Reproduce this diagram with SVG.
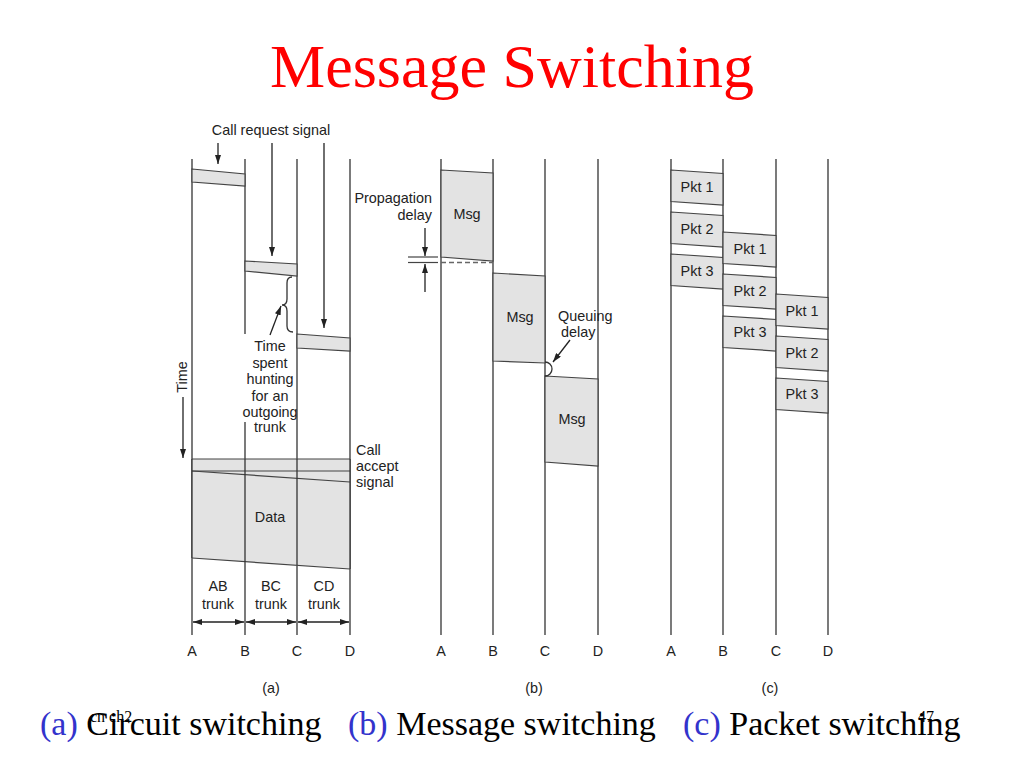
<svg xmlns="http://www.w3.org/2000/svg" width="1024" height="768" viewBox="0 0 1024 768">
<style>
.ln{stroke:#333;stroke-width:1.3;fill:none}
.pk{fill:#e3e3e3;stroke:#444;stroke-width:1.2}
.ed{stroke:#444;stroke-width:1.2;fill:none}
.t{font-family:"Liberation Sans",Arial,sans-serif;font-size:14.4px;fill:#222}
.m{text-anchor:middle}
.ar{stroke:#222;stroke-width:1.3;fill:none;marker-end:url(#ah)}
.cap{font-family:"Liberation Serif","Times New Roman",serif;font-size:34px;fill:#000}
.blue{fill:#3333cc}
</style>
<defs>
<marker id="ah" viewBox="0 0 9 6" refX="9" refY="3" markerWidth="9" markerHeight="6" markerUnits="userSpaceOnUse" orient="auto-start-reverse">
<path d="M0,0 L9,3 L0,6 z" fill="#222"/>
</marker>
</defs>
<rect width="1024" height="768" fill="#fff"/>
<text id="title" x="512" y="87" text-anchor="middle" font-family="Liberation Serif,'Times New Roman',serif" font-size="62" fill="#ff0000">Message Switching</text>

<!-- (a) circuit switching -->
<g id="a-lines" class="ln">
<line x1="192" y1="159" x2="192" y2="635"/>
<line x1="245" y1="159" x2="245" y2="635"/>
<line x1="297" y1="159" x2="297" y2="635"/>
<line x1="350" y1="159" x2="350" y2="635"/>
</g>
<g id="a-req-ab"><polygon class="pk" points="192,169 245,174 245,186 192,182"/></g>
<g id="a-req-bc"><polygon class="pk" points="245,261 297,264 297,276 245,271"/></g>
<g id="a-req-cd"><polygon class="pk" points="297,334 350,338 350,351 297,348"/></g>
<g id="a-data">
<polygon points="192,459 350,459 350,569 192,558" fill="#e3e3e3"/>
<line class="ed" x1="192" y1="459" x2="350" y2="459"/>
<line class="ed" x1="192" y1="471" x2="350" y2="471"/>
<line class="ed" x1="192" y1="471" x2="350" y2="482"/>
<line class="ed" x1="192" y1="558" x2="350" y2="569"/>
<line class="ln" x1="192" y1="459" x2="192" y2="558"/>
<line class="ln" x1="245" y1="459" x2="245" y2="562"/>
<line class="ln" x1="297" y1="459" x2="297" y2="565"/>
<line class="ln" x1="350" y1="459" x2="350" y2="569"/>
<text class="t m" x="270" y="522">Data</text>
</g>
<g id="a-callreq">
<text class="t m" x="271" y="135">Call request signal</text>
</g>
<g id="a-hunt">
<rect x="239" y="334" width="56" height="88" fill="#fff"/>
<path class="ln" d="M292,277 Q287,277 287,283 L287,299 Q287,305 282,305 Q287,305 287,311 L287,326 Q287,332 293,332" stroke-width="1.1"/>
<text class="t m" x="270" y="351">Time</text>
<text class="t m" x="270" y="368">spent</text>
<text class="t m" x="270" y="384">hunting</text>
<text class="t m" x="270" y="401">for an</text>
<text class="t m" x="270" y="417">outgoing</text>
<text class="t m" x="270" y="432">trunk</text>
</g>
<g id="a-time">
<text class="t m" transform="rotate(-90 182 377)" x="182" y="382">Time</text>
</g>
<g id="a-accept">
<text class="t" x="356" y="455">Call</text>
<text class="t" x="356" y="471">accept</text>
<text class="t" x="356" y="487">signal</text>
</g>
<g id="a-trunks">
<text class="t m" x="218" y="591">AB</text>
<text class="t m" x="218" y="609">trunk</text>
<text class="t m" x="271" y="591">BC</text>
<text class="t m" x="271" y="609">trunk</text>
<text class="t m" x="324" y="591">CD</text>
<text class="t m" x="324" y="609">trunk</text>
</g>
<g id="a-labels" class="t m">
<text x="192" y="656">A</text><text x="245" y="656">B</text><text x="297" y="656">C</text><text x="350" y="656">D</text>
<text x="271" y="693">(a)</text>
</g>

<!-- (b) message switching -->
<g id="b-lines" class="ln">
<line x1="441" y1="159" x2="441" y2="635"/>
<line x1="493" y1="159" x2="493" y2="635"/>
<line x1="545" y1="159" x2="545" y2="635"/>
<line x1="598" y1="159" x2="598" y2="635"/>
</g>
<g id="b-msg1"><polygon class="pk" points="441,170 493,173 493,261 441,257"/><text class="t m" x="467" y="219">Msg</text></g>
<g id="b-msg2"><polygon class="pk" points="493,273 545,276 545,363 493,361"/><text class="t m" x="520" y="322">Msg</text></g>
<g id="b-msg3"><polygon class="pk" points="545,376 598,379 598,466 545,462"/><text class="t m" x="572" y="424">Msg</text></g>
<g id="b-prop">
<text class="t" x="432" y="203" text-anchor="end">Propagation</text>
<text class="t" x="432" y="220" text-anchor="end">delay</text>
<line class="ed" x1="408" y1="257" x2="438" y2="257"/>
<line class="ed" x1="408" y1="262.5" x2="438" y2="262.5"/>
</g>
<g id="b-queue">
<path class="ln" d="M545,362 A7,7 0 0 1 545,376" stroke-width="1.1"/>
<text class="t" x="558" y="321">Queuing</text>
<text class="t" x="561" y="337">delay</text>
</g>
<g id="b-labels" class="t m">
<text x="441" y="656">A</text><text x="493" y="656">B</text><text x="545" y="656">C</text><text x="598" y="656">D</text>
<text x="534" y="693">(b)</text>
</g>

<!-- (c) packet switching -->
<g id="c-lines" class="ln">
<line x1="671" y1="159" x2="671" y2="635"/>
<line x1="723" y1="159" x2="723" y2="635"/>
<line x1="776" y1="159" x2="776" y2="635"/>
<line x1="828" y1="159" x2="828" y2="635"/>
</g>
<g id="c-ab1"><polygon class="pk" points="671,170 723,173.5 723,205 671,201.5"/><text class="t m" x="697" y="192">Pkt 1</text></g>
<g id="c-ab2"><polygon class="pk" points="671,212 723,215.5 723,247 671,243.5"/><text class="t m" x="697" y="234">Pkt 2</text></g>
<g id="c-ab3"><polygon class="pk" points="671,254 723,257.5 723,289 671,285.5"/><text class="t m" x="697" y="276">Pkt 3</text></g>
<g id="c-bc1"><polygon class="pk" points="723,232 776,235.5 776,267 723,263.5"/><text class="t m" x="750" y="254">Pkt 1</text></g>
<g id="c-bc2"><polygon class="pk" points="723,274 776,277.5 776,309 723,305.5"/><text class="t m" x="750" y="296">Pkt 2</text></g>
<g id="c-bc3"><polygon class="pk" points="723,316 776,319.5 776,351 723,347.5"/><text class="t m" x="750" y="337">Pkt 3</text></g>
<g id="c-cd1"><polygon class="pk" points="776,294 828,297.5 828,329 776,325.5"/><text class="t m" x="802" y="316">Pkt 1</text></g>
<g id="c-cd2"><polygon class="pk" points="776,336 828,339.5 828,371 776,367.5"/><text class="t m" x="802" y="358">Pkt 2</text></g>
<g id="c-cd3"><polygon class="pk" points="776,378 828,381.5 828,413 776,409.5"/><text class="t m" x="802" y="399">Pkt 3</text></g>
<g id="c-labels" class="t m">
<text x="671" y="656">A</text><text x="723" y="656">B</text><text x="776" y="656">C</text><text x="828" y="656">D</text>
<text x="770" y="693">(c)</text>
</g>

<!-- connectors -->
<g id="connectors">
<line class="ar" x1="218" y1="143" x2="218" y2="164"/>
<line class="ar" x1="272" y1="143" x2="272" y2="256"/>
<line class="ar" x1="324" y1="143" x2="324" y2="328"/>
<line class="ar" x1="270" y1="335" x2="281" y2="306"/>
<line class="ar" x1="183" y1="397" x2="183" y2="458"/>
<line class="ar" x1="193" y1="622" x2="244" y2="622" marker-start="url(#ah)"/>
<line class="ar" x1="246" y1="622" x2="296" y2="622" marker-start="url(#ah)"/>
<line class="ar" x1="298" y1="622" x2="349" y2="622" marker-start="url(#ah)"/>
<line x1="441" y1="262.5" x2="493" y2="262.5" stroke="#666" stroke-width="1.3" stroke-dasharray="5,3"/>
<line class="ar" x1="425" y1="228" x2="425" y2="256"/>
<line class="ar" x1="425" y1="292" x2="425" y2="264"/>
<line class="ar" x1="570" y1="340" x2="553" y2="362"/>
</g>

<g id="caption">
<text class="cap" x="40" y="735"><tspan class="blue">(a)</tspan> Circuit switching</text>
<text class="cap" x="348" y="735"><tspan class="blue">(b)</tspan> Message switching</text>
<text class="cap" x="683" y="735"><tspan class="blue">(c)</tspan> Packet switching</text>
<text x="90" y="722" font-family="Liberation Serif,'Times New Roman',serif" font-size="16" fill="#000">cn ch2</text>
<text x="918" y="722" font-family="Liberation Serif,'Times New Roman',serif" font-size="16" fill="#000">47</text>
</g>
</svg>
